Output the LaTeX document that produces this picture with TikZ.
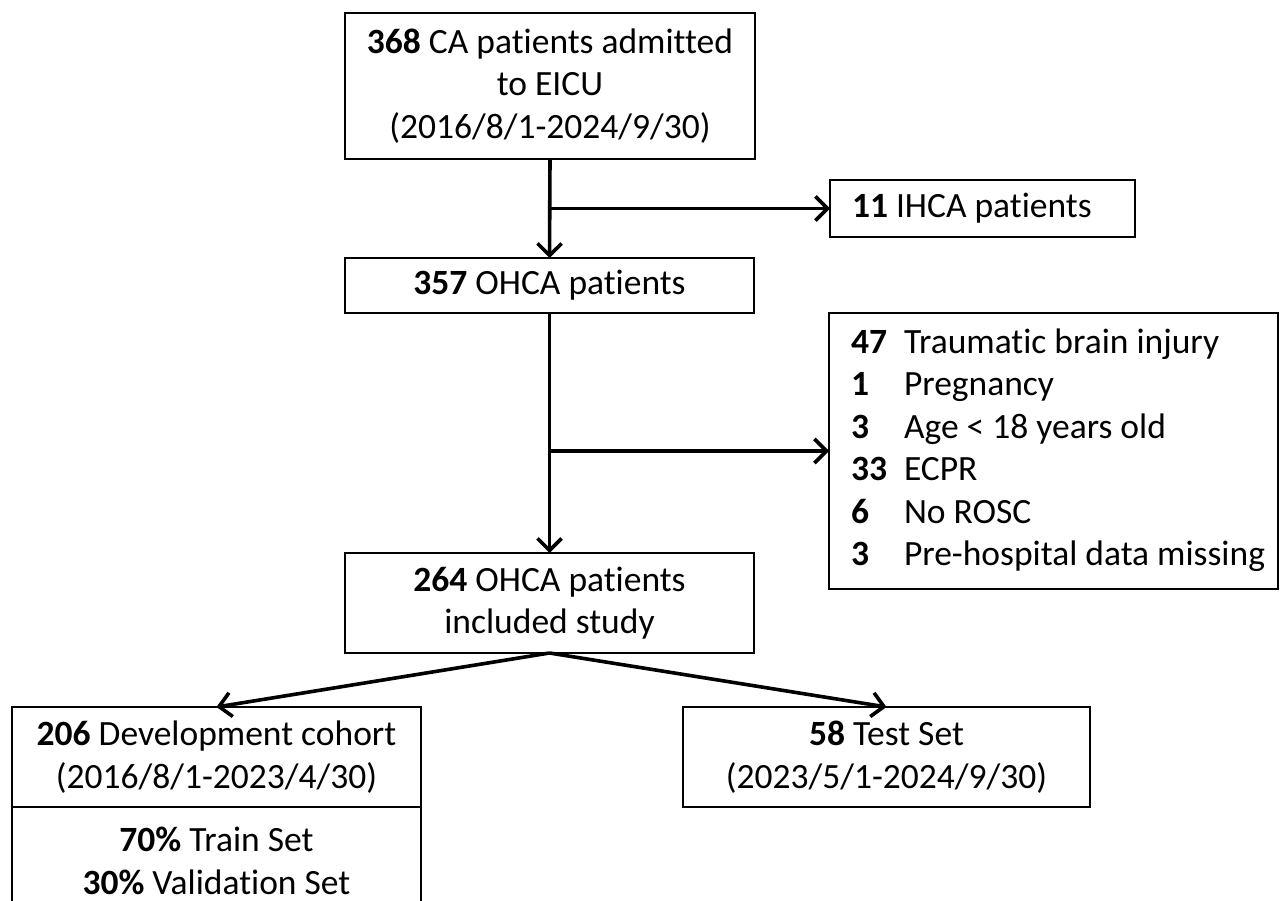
\documentclass[tikz,border=0pt]{standalone}
\usepackage{fontspec}
\setmainfont{Carlito}[Ligatures=NoCommon]
\usetikzlibrary{arrows.meta}
\begin{document}
\begin{tikzpicture}[x=1pt,y=-1pt,
  box/.style={draw,line width=1.6pt,inner sep=0pt,outer sep=0pt,align=center,
    font=\fontsize{35.5}{42.5}\selectfont},
  arr/.style={line width=3.6pt,-{Straight Barb[length=12pt,width=24pt]}}]
\useasboundingbox (0,0) rectangle (1280,901);
\node[box,minimum width=410,minimum height=146] (top) at (550,86)
  {\textbf{368} CA patients admitted\\to EICU\\(2016/8/1-2024/9/30)};
\node[box,minimum width=305,minimum height=57] (ihca) at (982.5,208.5)
  {\makebox[261pt][l]{\textbf{11} IHCA patients}};
\node[box,minimum width=449,minimum height=276] (excl) at (1053.5,451)
  {\makebox[405pt][l]{\begin{tabular}{@{}p{53pt}@{}l@{}}
   \textbf{47} & Traumatic brain injury\\
   \textbf{1} & Pregnancy\\
   \textbf{3} & Age < 18 years old\\
   \textbf{33} & ECPR\\
   \textbf{6} & No ROSC\\
   \textbf{3} & Pre-hospital data missing
   \end{tabular}}};
\node[box,minimum width=409,minimum height=55] (mid) at (549.5,285.5)
  {\textbf{357} OHCA patients};
\node[box,minimum width=409,minimum height=100] (inc) at (549.5,603)
  {\textbf{264} OHCA patients\\included study};
\node[box,minimum width=409,minimum height=100] (dev) at (216.5,757)
  {\textbf{206} Development cohort\\(2016/8/1-2023/4/30)};
\node[box,minimum width=409,minimum height=108,anchor=north] (split) at (dev.south)
  {\textbf{70\%} Train Set\\\textbf{30\%} Validation Set};
\node[box,minimum width=407,minimum height=100] (test) at (886.5,757)
  {\textbf{58} Test Set\\(2023/5/1-2024/9/30)};
\coordinate (j1) at (top.south |- ihca.west);
\coordinate (j2) at (mid.south |- excl.west);
\draw[arr] (top.south) -- (mid.north);
\draw[arr] (j1) -- (ihca.west);
\draw[arr] (mid.south) -- (inc.north);
\draw[arr] (j2) -- (excl.west);
\draw[arr] (inc.south) -- (dev.north);
\draw[arr] (inc.south) -- (test.north);
\end{tikzpicture}
\end{document}
